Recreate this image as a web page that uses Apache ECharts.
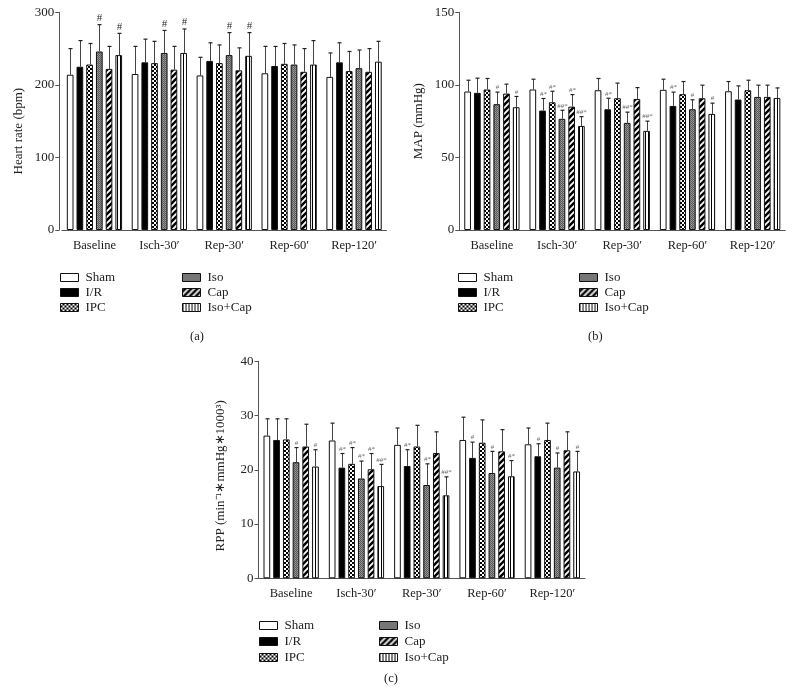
<!DOCTYPE html>
<html><head><meta charset="utf-8">
<script src="https://cdn.jsdelivr.net/npm/echarts@6/dist/echarts.min.js"></script>
<style>html,body{margin:0;padding:0;background:#fff}#c{width:794px;height:700px}</style>
</head><body><div id="c"></div>
<script>
// ---------------- data ----------------
const categories = ['Baseline', 'Isch-30\u2032', 'Rep-30\u2032', 'Rep-60\u2032', 'Rep-120\u2032'];
const groups = ['Sham', 'I/R', 'IPC', 'Iso', 'Cap', 'Iso+Cap'];

// Heart rate (bpm): rows = groups, cols = categories
const hrMean = [
  [214, 215, 213, 216, 211],
  [225, 231, 233, 226, 231],
  [228, 230, 230, 229, 219],
  [246, 244, 241, 228, 223],
  [222, 221, 220, 218, 218],
  [241, 244, 240, 228, 232]
];
const hrSD = [
  [36, 38, 25, 37, 33],
  [36, 32, 25, 27, 27],
  [29, 30, 25, 28, 27],
  [37, 31, 31, 27, 25],
  [31, 32, 31, 32, 32],
  [30, 33, 32, 33, 28]
];
const hrMark = [
  ['', '', '', '', ''],
  ['', '', '', '', ''],
  ['', '', '', '', ''],
  ['#', '#', '#', '', ''],
  ['', '', '', '', ''],
  ['#', '#', '#', '', '']
];

// MAP (mmHg)
const mapMean = [
  [95.4, 96.8, 96.3, 96.6, 95.6],
  [94.5, 82.3, 83.2, 85.5, 89.9],
  [96.8, 88.0, 90.8, 93.6, 96.3],
  [86.7, 76.6, 73.8, 83.2, 91.7],
  [94.0, 85.0, 90.3, 90.8, 91.7],
  [84.6, 71.7, 68.3, 80.0, 91.0]
];
const mapSD = [
  [7.8, 7.1, 8.1, 7.3, 6.7],
  [10.1, 8.3, 7.6, 9.5, 9.4],
  [7.6, 7.6, 10.4, 8.7, 6.9],
  [8.3, 5.9, 7.4, 6.5, 8.1],
  [6.5, 8.3, 7.8, 9.0, 8.1],
  [7.4, 6.4, 6.7, 7.4, 6.9]
];
const mapMark = [
  ['', '', '', '', ''],
  ['', '#*', '#*', '#*', ''],
  ['', '#*', '', '', ''],
  ['#', '##*', '##*', '#', ''],
  ['', '#*', '', '', ''],
  ['#', '##*', '##*', '#', '']
];

// RPP (min^-1 * mmHg * 1000^3)
const rppMean = [
  [26.3, 25.4, 24.6, 25.5, 24.7],
  [25.5, 20.4, 20.7, 22.2, 22.5],
  [25.6, 21.1, 24.3, 25.0, 25.5],
  [21.4, 18.4, 17.2, 19.4, 20.4],
  [24.3, 20.1, 23.1, 23.4, 23.6],
  [20.6, 17.0, 15.3, 18.8, 19.7]
];
const rppSD = [
  [3.1, 3.2, 3.1, 4.2, 3.0],
  [3.9, 2.6, 3.0, 2.9, 2.3],
  [3.8, 3.0, 3.9, 4.2, 3.1],
  [2.7, 3.2, 3.9, 4.0, 2.7],
  [4.1, 2.9, 3.9, 4.0, 3.4],
  [3.1, 4.0, 3.4, 2.9, 3.7]
];
const rppMark = [
  ['', '', '', '', ''],
  ['', '#*', '#*', '#', '#'],
  ['', '#*', '', '', ''],
  ['#', '#*', '#*', '#', '#'],
  ['', '#*', '', '', ''],
  ['#', '##*', '##*', '#*', '#']
];

const hrTicks = [0, 300, 100];
const mapTicks = [0, 150, 50];
const rppTicks = [0, 40, 10];

// ---------------- patterns ----------------
function pat(w, h, draw) {
  const c = document.createElement('canvas');
  c.width = w; c.height = h;
  const g = c.getContext('2d');
  draw(g, w, h);
  return { image: c, repeat: 'repeat' };
}
const fills = [
  '#ffffff',
  '#000000',
  pat(4, 4, (g) => { g.fillStyle = '#000'; g.fillRect(0, 0, 4, 4); g.fillStyle = '#fff'; g.fillRect(0, 0, 2, 2); g.fillRect(2, 2, 2, 2); }),
  pat(2, 2, (g) => { g.fillStyle = '#868686'; g.fillRect(0, 0, 2, 2); g.fillStyle = '#5a5a5a'; g.fillRect(0, 0, 1, 1); g.fillStyle = '#5a5a5a'; g.fillRect(1, 1, 1, 1); g.fillStyle = '#a0a0a0'; g.fillRect(1, 0, 1, 1); }),
  pat(6, 6, (g) => {
    g.fillStyle = '#000'; g.fillRect(0, 0, 6, 6);
    g.strokeStyle = '#fff'; g.lineWidth = 1.8;
    g.beginPath();
    g.moveTo(-1, 7); g.lineTo(7, -1);
    g.moveTo(-7, 7); g.lineTo(1, -1);
    g.moveTo(5, 7); g.lineTo(13, -1);
    g.stroke();
  }),
  pat(3, 2, (g) => { g.fillStyle = '#fff'; g.fillRect(0, 0, 3, 2); g.fillStyle = '#000'; g.fillRect(0, 0, 1, 2); })
];

const BAR_W = 6.7, GAP_PCT = 0.45, STEP = BAR_W * (1 + GAP_PCT);
const FONT = 'Liberation Serif';

const panels = [
  { mean: hrMean, sd: hrSD, mark: hrMark, ticks: hrTicks, name: 'Heart rate (bpm)', grid: { left: 62, top: 12.3, width: 324.5, height: 217.7 }, yOffset: 2.7, nameGap: 34, namePad: [0, 20, 0, 0], markSize: 11, markColor: '#333' },
  { mean: mapMean, sd: mapSD, mark: mapMark, ticks: mapTicks, name: 'MAP (mmHg)', grid: { left: 459.3, top: 12.3, width: 326, height: 217.7 }, yOffset: 0, nameGap: 34, namePad: [0, 0, 0, 0], markSize: 7, markColor: '#666' },
  { mean: rppMean, sd: rppSD, mark: rppMark, ticks: rppTicks, name: 'RPP (min\u207B\u00B9\u2217mmHg\u22171000\u00B3)', grid: { left: 258.5, top: 361.3, width: 326.5, height: 217 }, yOffset: 0, nameGap: 31, namePad: [0, 12, 0, 0], markSize: 7, markColor: '#666' }
];

const grid = [], xAxis = [], yAxis = [], series = [];
panels.forEach((p, pi) => {
  grid.push(p.grid);
  xAxis.push({
    type: 'category', gridIndex: pi, data: categories,
    axisLine: { lineStyle: { color: '#555', width: 1 } },
    axisTick: { alignWithLabel: true, length: 4, lineStyle: { color: '#555' } },
    axisLabel: { fontFamily: FONT, fontSize: 12.5, color: '#222', margin: 9 }
  });
  yAxis.push({
    type: 'value', gridIndex: pi, min: p.ticks[0], max: p.ticks[1], interval: p.ticks[2],
    offset: p.yOffset,
    axisLine: { show: true, lineStyle: { color: '#555', width: 1 } },
    axisTick: { show: true, length: 4, lineStyle: { color: '#555' } },
    splitLine: { show: false },
    axisLabel: { fontFamily: FONT, fontSize: 13, color: '#222', margin: 5 },
    name: p.name, nameLocation: 'middle', nameRotate: 90, nameGap: p.nameGap,
    nameTextStyle: { fontFamily: FONT, fontSize: 13, color: '#222', padding: p.namePad }
  });
  groups.forEach((gname, g) => {
    series.push({
      type: 'bar', name: gname, xAxisIndex: pi, yAxisIndex: pi,
      data: p.mean[g], barWidth: BAR_W, barGap: (GAP_PCT * 100) + '%',
      itemStyle: { color: fills[g], borderColor: '#111', borderWidth: 1 },
      emphasis: { disabled: true }
    });
  });
  const errData = [], errMarks = [];
  groups.forEach((gname, g) => {
    categories.forEach((c, ci) => {
      errData.push([ci, p.mean[g][ci], p.mean[g][ci] + p.sd[g][ci], g]);
      errMarks.push(p.mark[g][ci]);
    });
  });
  series.push({
    type: 'custom', name: 'err' + pi, xAxisIndex: pi, yAxisIndex: pi, z: 10,
    data: errData, encode: { x: 0, y: 2 }, silent: true,
    renderItem: (params, api) => {
      const ci = api.value(0), m = api.value(1), t = api.value(2), g = api.value(3);
      const b = api.coord([ci, m]);
      const e = api.coord([ci, t]);
      const x = Math.round(b[0] + (g - 2.5) * STEP) + 0.5;
      const children = [
        { type: 'line', shape: { x1: x, y1: b[1], x2: x, y2: e[1] }, style: { stroke: '#444', lineWidth: 1 } },
        { type: 'line', shape: { x1: x - 2, y1: e[1], x2: x + 2, y2: e[1] }, style: { stroke: '#222', lineWidth: 1.2 } }
      ];
      const mk = errMarks[params.dataIndex];
      if (mk) {
        children.push({ type: 'text', style: { text: mk, x: x, y: e[1] - 1, align: 'center', verticalAlign: 'bottom', fontFamily: FONT, fontSize: p.markSize, fill: p.markColor } });
      }
      return { type: 'group', children };
    }
  });
});

const legBase = { orient: 'vertical', icon: 'rect', itemWidth: 18, itemHeight: 8, padding: 0, itemGap: 2, selectedMode: false,
  textStyle: { fontFamily: FONT, fontSize: 13, color: '#222', padding: [0, 0, 0, 2] },
  itemStyle: { borderColor: '#111', borderWidth: 1 } };
const legend = [
  Object.assign({}, legBase, { left: 60, top: 271, data: groups.slice(0, 3) }),
  Object.assign({}, legBase, { left: 182, top: 271, data: groups.slice(3) }),
  Object.assign({}, legBase, { left: 458, top: 271, data: groups.slice(0, 3) }),
  Object.assign({}, legBase, { left: 579, top: 271, data: groups.slice(3) }),
  Object.assign({}, legBase, { left: 259, top: 619, itemGap: 3, data: groups.slice(0, 3) }),
  Object.assign({}, legBase, { left: 379, top: 619, itemGap: 3, data: groups.slice(3) })
];

const chart = echarts.init(document.getElementById('c'), null, { renderer: 'canvas' });
chart.setOption({
  animation: false,
  backgroundColor: '#fff',
  grid, xAxis, yAxis, series, legend,
  graphic: [
    { type: 'text', left: 190, top: 330, style: { text: '(a)', fontFamily: FONT, fontSize: 12.5, fill: '#222' } },
    { type: 'text', left: 588, top: 330, style: { text: '(b)', fontFamily: FONT, fontSize: 12.5, fill: '#222' } },
    { type: 'text', left: 384, top: 672, style: { text: '(c)', fontFamily: FONT, fontSize: 12.5, fill: '#222' } }
  ]
});
</script></body></html>
